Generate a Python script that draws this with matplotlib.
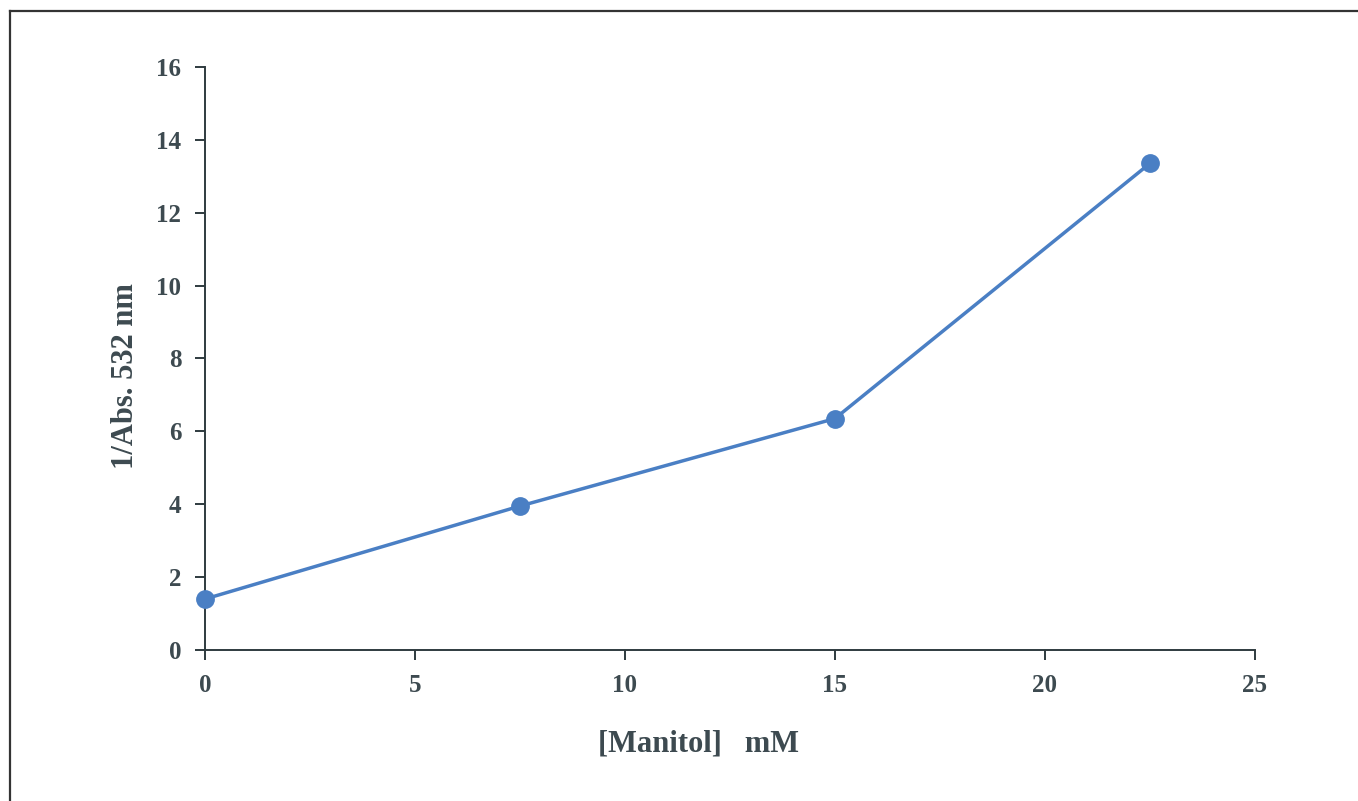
import matplotlib.pyplot as plt
from matplotlib.lines import Line2D

# data
manitol_mM = [0, 7.5, 15, 22.5]
inv_abs_532 = [1.4, 3.95, 6.35, 13.35]

x_ticks = [0, 5, 10, 15, 20, 25]
y_ticks = [0, 2, 4, 6, 8, 10, 12, 14, 16]

txt_color = '#3d4a50'
line_color = '#4a7fc4'

plt.rcParams['font.family'] = ['Liberation Serif', 'DejaVu Serif']
plt.rcParams['font.weight'] = 'bold'

fig = plt.figure(figsize=(13.58, 8.01), dpi=100)
ax = fig.add_axes([0.151, 0.1885, 0.773, 0.728])

ax.plot(manitol_mM, inv_abs_532, color=line_color, lw=2.5,
        marker='o', markersize=12.5, clip_on=False, zorder=3)

ax.set_xlim(0, 25)
ax.set_ylim(0, 16)
ax.set_xticks(x_ticks)
ax.set_yticks(y_ticks)

for side in ['top', 'right']:
    ax.spines[side].set_visible(False)
for side in ['left', 'bottom']:
    ax.spines[side].set_color('#2f3b3f')
    ax.spines[side].set_linewidth(1.4)

ax.tick_params(axis='both', direction='out', length=7, width=1.4,
               color='#2f3b3f', labelsize=18, labelcolor=txt_color)
ax.tick_params(axis='y', pad=10)
ax.tick_params(axis='x', pad=10)
for lbl in ax.get_xticklabels() + ax.get_yticklabels():
    lbl.set_fontweight('bold')

ax.set_xlabel('[Manitol]   mM', fontsize=22, fontweight='bold',
              color=txt_color)
ax.set_ylabel('1/Abs. 532 nm', fontsize=22, fontweight='bold',
              color=txt_color, labelpad=12)
ax.xaxis.set_label_coords(0.47, -0.137)
ax.yaxis.label.set_y(0.47)

# outer frame (left and top edges visible)
fig.add_artist(Line2D([10 / 1358, 10 / 1358], [0, 1 - 11 / 801],
                      transform=fig.transFigure, color='#333333', lw=1.6))
fig.add_artist(Line2D([10 / 1358, 1], [1 - 11 / 801, 1 - 11 / 801],
                      transform=fig.transFigure, color='#333333', lw=1.6))

fig.savefig('out.png', dpi=100)
